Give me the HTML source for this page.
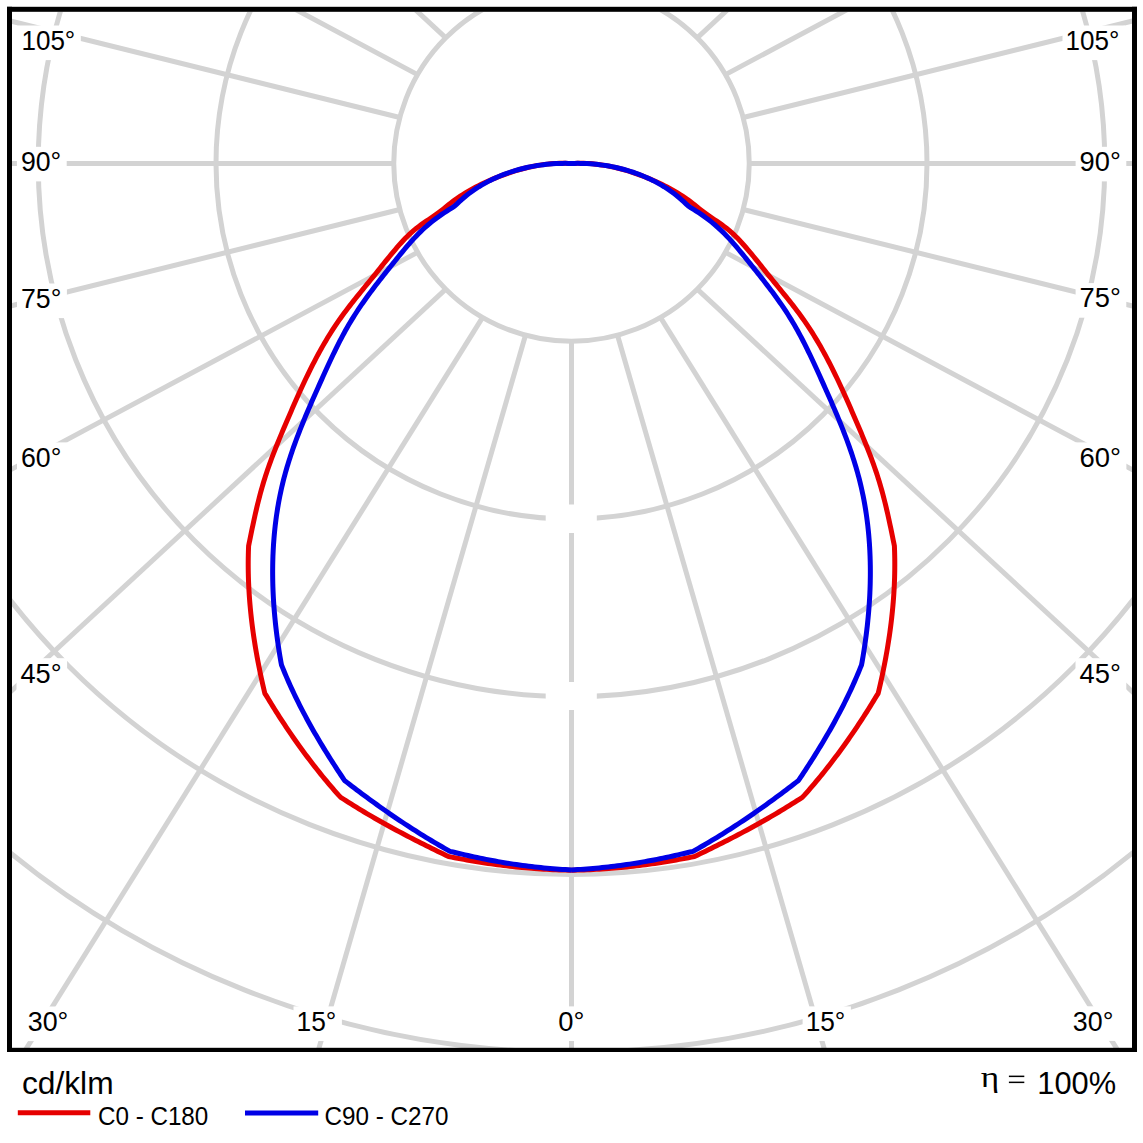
<!DOCTYPE html>
<html><head><meta charset="utf-8"><style>
html,body{margin:0;padding:0;background:#fff;width:1143px;height:1143px;overflow:hidden}
svg{display:block}
</style></head><body>
<svg width="1143" height="1143" viewBox="0 0 1143 1143">
<defs><clipPath id="c"><rect x="12" y="11.8" width="1120" height="1036.2"/></clipPath></defs>
<rect width="1143" height="1143" fill="#fff"/>
<g clip-path="url(#c)">
<g fill="none" stroke="#d3d3d3" stroke-width="5">
<circle cx="571.5" cy="163.5" r="177.75"/>
<circle cx="571.5" cy="163.5" r="355.5"/>
<circle cx="571.5" cy="163.5" r="533.25"/>
<circle cx="571.5" cy="163.5" r="711.0"/>
<circle cx="571.5" cy="163.5" r="888.75"/>
<line x1="571.50" y1="-14.25" x2="571.50" y2="-2014.25"/>
<line x1="617.51" y1="-8.19" x2="1173.98" y2="-1929.22"/>
<line x1="660.38" y1="9.56" x2="1719.35" y2="-1687.07"/>
<line x1="697.19" y1="37.81" x2="2165.39" y2="-1320.27"/>
<line x1="725.44" y1="74.63" x2="2489.62" y2="-867.53"/>
<line x1="743.19" y1="117.49" x2="2684.46" y2="-363.65"/>
<line x1="749.25" y1="163.50" x2="2749.25" y2="163.50"/>
<line x1="743.19" y1="209.51" x2="2684.46" y2="690.65"/>
<line x1="725.44" y1="252.38" x2="2489.62" y2="1194.53"/>
<line x1="697.19" y1="289.19" x2="2165.39" y2="1647.27"/>
<line x1="660.38" y1="317.44" x2="1719.35" y2="2014.07"/>
<line x1="617.51" y1="335.19" x2="1173.98" y2="2256.22"/>
<line x1="571.50" y1="341.25" x2="571.50" y2="2341.25"/>
<line x1="525.49" y1="335.19" x2="-30.98" y2="2256.22"/>
<line x1="482.62" y1="317.44" x2="-576.35" y2="2014.07"/>
<line x1="445.81" y1="289.19" x2="-1022.39" y2="1647.27"/>
<line x1="417.56" y1="252.38" x2="-1346.62" y2="1194.53"/>
<line x1="399.81" y1="209.51" x2="-1541.46" y2="690.65"/>
<line x1="393.75" y1="163.50" x2="-1606.25" y2="163.50"/>
<line x1="399.81" y1="117.49" x2="-1541.46" y2="-363.65"/>
<line x1="417.56" y1="74.63" x2="-1346.62" y2="-867.53"/>
<line x1="445.81" y1="37.81" x2="-1022.39" y2="-1320.27"/>
<line x1="482.62" y1="9.56" x2="-576.35" y2="-1687.07"/>
<line x1="525.49" y1="-8.19" x2="-30.98" y2="-1929.22"/>
<line x1="571.50" y1="-14.25" x2="571.50" y2="-2014.25"/>
</g>
<g fill="#fff">
<rect x="18.4" y="25.5" width="62.4" height="34.6"/>
<rect x="16.9" y="146.8" width="49.8" height="34.6"/>
<rect x="17.0" y="283.5" width="49.9" height="34.6"/>
<rect x="17.0" y="442.4" width="49.9" height="34.6"/>
<rect x="16.5" y="658.2" width="50.6" height="34.6"/>
<rect x="1062.5" y="25.5" width="62.4" height="34.6"/>
<rect x="1075.6" y="146.8" width="50.7" height="34.6"/>
<rect x="1075.6" y="283.1" width="50.7" height="34.6"/>
<rect x="1075.5" y="442.4" width="50.9" height="34.6"/>
<rect x="1075.5" y="658.2" width="50.8" height="34.6"/>
<rect x="23.7" y="1006.5" width="50.1" height="34.6"/>
<rect x="293.5" y="1006.4" width="48.4" height="34.6"/>
<rect x="554.2" y="1006.4" width="35.6" height="34.6"/>
<rect x="802.6" y="1006.4" width="48.3" height="34.6"/>
<rect x="1068.8" y="1006.3" width="50.1" height="34.6"/>
<rect x="545.7" y="504.5" width="51.1" height="28.5"/>
<rect x="545.7" y="682" width="51.1" height="28"/>
</g>
<g fill="#000">
<text transform="translate(21.47,49.80) scale(0.9635,1)" font-family="Liberation Sans" font-size="27">105°</text>
<text transform="translate(20.91,171.10) scale(0.9868,1)" font-family="Liberation Sans" font-size="27">90°</text>
<text transform="translate(21.01,307.80) scale(0.9895,1)" font-family="Liberation Sans" font-size="27">75°</text>
<text transform="translate(21.01,466.70) scale(0.9895,1)" font-family="Liberation Sans" font-size="27">60°</text>
<text transform="translate(20.49,682.50) scale(1.0079,1)" font-family="Liberation Sans" font-size="27">45°</text>
<text transform="translate(1065.57,49.80) scale(0.9635,1)" font-family="Liberation Sans" font-size="27">105°</text>
<text transform="translate(1079.59,171.10) scale(1.0105,1)" font-family="Liberation Sans" font-size="27">90°</text>
<text transform="translate(1079.59,307.40) scale(1.0105,1)" font-family="Liberation Sans" font-size="27">75°</text>
<text transform="translate(1079.48,466.70) scale(1.0158,1)" font-family="Liberation Sans" font-size="27">60°</text>
<text transform="translate(1079.49,682.50) scale(1.0132,1)" font-family="Liberation Sans" font-size="27">45°</text>
<text transform="translate(27.71,1030.80) scale(0.9947,1)" font-family="Liberation Sans" font-size="27">30°</text>
<text transform="translate(296.55,1030.70) scale(0.9757,1)" font-family="Liberation Sans" font-size="27">15°</text>
<text transform="translate(558.19,1030.70) scale(1.0130,1)" font-family="Liberation Sans" font-size="27">0°</text>
<text transform="translate(805.65,1030.70) scale(0.9730,1)" font-family="Liberation Sans" font-size="27">15°</text>
<text transform="translate(1072.81,1030.60) scale(0.9947,1)" font-family="Liberation Sans" font-size="27">30°</text>
</g>
<path d="M571.50,870.20 L568.40,870.15 L565.30,870.08 L562.20,870.00 L559.11,869.90 L556.01,869.79 L552.91,869.66 L549.82,869.51 L546.72,869.35 L543.63,869.18 L540.54,868.98 L537.45,868.77 L534.36,868.55 L531.27,868.31 L528.18,868.06 L525.09,867.79 L522.01,867.50 L518.92,867.20 L515.84,866.89 L512.76,866.56 L509.68,866.22 L506.60,865.86 L503.53,865.49 L500.45,865.10 L497.38,864.70 L494.31,864.29 L491.24,863.86 L488.17,863.42 L485.11,862.96 L482.05,862.50 L478.99,862.01 L475.93,861.52 L472.87,861.01 L469.82,860.49 L466.76,859.96 L463.71,859.41 L460.67,858.85 L457.62,858.28 L454.58,857.69 L451.54,857.10 L448.50,856.50 L445.72,855.19 L442.95,853.85 L440.18,852.52 L437.41,851.17 L434.65,849.82 L431.89,848.46 L429.13,847.10 L426.38,845.73 L423.63,844.35 L420.88,842.97 L418.13,841.58 L415.39,840.18 L412.66,838.78 L409.92,837.36 L407.20,835.94 L404.47,834.51 L401.75,833.08 L399.04,831.63 L396.33,830.18 L393.62,828.72 L390.92,827.25 L388.22,825.77 L385.53,824.28 L382.85,822.78 L380.17,821.27 L377.50,819.75 L374.83,818.22 L372.17,816.68 L369.51,815.13 L366.86,813.57 L364.22,812.00 L361.58,810.42 L358.95,808.82 L356.33,807.22 L353.71,805.60 L351.10,803.97 L348.50,802.33 L345.91,800.68 L343.32,799.01 L340.70,797.40 L338.59,795.16 L336.56,792.86 L334.53,790.55 L332.52,788.23 L330.53,785.90 L328.54,783.56 L326.57,781.20 L324.61,778.84 L322.66,776.46 L320.72,774.08 L318.80,771.69 L316.88,769.28 L314.98,766.87 L313.09,764.44 L311.22,762.01 L309.35,759.57 L307.50,757.12 L305.65,754.66 L303.82,752.19 L302.01,749.71 L300.20,747.23 L298.40,744.73 L296.62,742.23 L294.85,739.72 L293.09,737.20 L291.34,734.67 L289.60,732.13 L287.87,729.59 L286.16,727.04 L284.45,724.48 L282.76,721.92 L281.08,719.35 L279.41,716.77 L277.75,714.18 L276.10,711.59 L274.46,708.99 L272.84,706.38 L271.22,703.77 L269.62,701.15 L268.03,698.53 L266.44,695.90 L264.80,693.30 L264.09,690.29 L263.39,687.27 L262.70,684.26 L262.03,681.23 L261.36,678.21 L260.72,675.18 L260.08,672.15 L259.46,669.12 L258.85,666.08 L258.26,663.04 L257.68,659.99 L257.12,656.95 L256.57,653.90 L256.03,650.85 L255.52,647.79 L255.01,644.73 L254.53,641.67 L254.06,638.61 L253.60,635.55 L253.16,632.48 L252.74,629.41 L252.34,626.34 L251.95,623.27 L251.59,620.19 L251.23,617.11 L250.90,614.03 L250.59,610.95 L250.29,607.87 L250.01,604.79 L249.75,601.70 L249.51,598.61 L249.29,595.53 L249.09,592.44 L248.91,589.35 L248.75,586.25 L248.61,583.16 L248.49,580.07 L248.39,576.97 L248.32,573.88 L248.26,570.78 L248.23,567.69 L248.21,564.59 L248.22,561.49 L248.25,558.39 L248.31,555.29 L248.38,552.20 L248.48,549.10 L248.60,546.00 L249.18,543.07 L249.77,540.14 L250.37,537.20 L250.97,534.25 L251.58,531.31 L252.19,528.35 L252.82,525.40 L253.45,522.44 L254.09,519.48 L254.75,516.52 L255.41,513.56 L256.09,510.61 L256.78,507.65 L257.49,504.70 L258.22,501.75 L258.96,498.81 L259.72,495.87 L260.50,492.94 L261.31,490.01 L262.13,487.10 L262.97,484.19 L263.84,481.29 L264.74,478.41 L265.66,475.53 L266.60,472.67 L267.56,469.81 L268.55,466.97 L269.55,464.13 L270.58,461.30 L271.62,458.48 L272.68,455.67 L273.76,452.86 L274.85,450.06 L275.96,447.26 L277.08,444.47 L278.21,441.69 L279.36,438.90 L280.51,436.12 L281.67,433.34 L282.84,430.57 L284.01,427.79 L285.20,425.02 L286.38,422.24 L287.57,419.47 L288.77,416.69 L289.96,413.92 L291.16,411.14 L292.37,408.37 L293.58,405.59 L294.80,402.82 L296.02,400.05 L297.25,397.28 L298.49,394.52 L299.74,391.76 L301.00,389.00 L302.27,386.25 L303.54,383.50 L304.83,380.76 L306.13,378.03 L307.44,375.30 L308.77,372.58 L310.11,369.87 L311.46,367.16 L312.83,364.47 L314.21,361.78 L315.61,359.10 L317.03,356.43 L318.46,353.77 L319.91,351.13 L321.38,348.49 L322.86,345.87 L324.37,343.26 L325.90,340.66 L327.45,338.08 L329.02,335.51 L330.61,332.95 L332.22,330.41 L333.86,327.89 L335.52,325.38 L337.21,322.89 L338.92,320.41 L340.66,317.95 L342.42,315.51 L344.20,313.09 L346.01,310.67 L347.83,308.27 L349.67,305.88 L351.52,303.50 L353.39,301.13 L355.27,298.77 L357.16,296.42 L359.06,294.07 L360.97,291.72 L362.88,289.38 L364.79,287.04 L366.70,284.70 L368.62,282.36 L370.53,280.02 L372.44,277.67 L374.34,275.32 L376.23,272.96 L378.12,270.60 L380.01,268.24 L381.89,265.88 L383.78,263.52 L385.67,261.17 L387.56,258.82 L389.47,256.48 L391.39,254.15 L393.32,251.83 L395.26,249.53 L397.23,247.24 L399.22,244.97 L401.23,242.72 L403.27,240.50 L405.34,238.32 L407.46,236.18 L409.63,234.09 L411.85,232.07 L414.12,230.11 L416.46,228.22 L418.85,226.40 L421.29,224.62 L423.76,222.89 L426.25,221.18 L428.76,219.48 L431.27,217.78 L433.77,216.06 L436.25,214.32 L438.70,212.54 L441.11,210.72 L443.49,208.84 L445.84,206.94 L448.20,205.05 L450.57,203.19 L452.98,201.37 L455.41,199.59 L457.88,197.87 L460.38,196.19 L462.90,194.56 L465.46,192.97 L468.04,191.42 L470.64,189.92 L473.27,188.45 L475.93,187.03 L478.60,185.65 L481.30,184.30 L484.01,183.00 L486.75,181.72 L489.50,180.49 L492.27,179.28 L495.06,178.11 L497.86,176.98 L500.67,175.88 L503.50,174.81 L506.34,173.78 L509.20,172.79 L512.06,171.85 L514.95,170.94 L517.84,170.08 L520.74,169.26 L523.66,168.48 L526.58,167.76 L529.52,167.08 L532.47,166.46 L535.43,165.88 L538.39,165.36 L541.37,164.90 L544.35,164.49 L547.34,164.14 L550.34,163.85 L553.35,163.61 L556.36,163.45 L559.38,163.34 L562.41,163.30 L565.44,163.32 L568.48,163.42 L571.50,163.50 L574.52,163.42 L577.56,163.32 L580.59,163.30 L583.62,163.34 L586.64,163.45 L589.65,163.61 L592.66,163.85 L595.66,164.14 L598.65,164.49 L601.63,164.90 L604.61,165.36 L607.57,165.88 L610.53,166.46 L613.48,167.08 L616.42,167.76 L619.34,168.48 L622.26,169.26 L625.16,170.08 L628.05,170.94 L630.94,171.85 L633.80,172.79 L636.66,173.78 L639.50,174.81 L642.33,175.88 L645.14,176.98 L647.94,178.11 L650.73,179.28 L653.50,180.49 L656.25,181.72 L658.99,183.00 L661.70,184.30 L664.40,185.65 L667.07,187.03 L669.73,188.45 L672.36,189.92 L674.96,191.42 L677.54,192.97 L680.10,194.56 L682.62,196.19 L685.12,197.87 L687.59,199.59 L690.02,201.37 L692.43,203.19 L694.80,205.05 L697.16,206.94 L699.51,208.84 L701.89,210.72 L704.30,212.54 L706.75,214.32 L709.23,216.06 L711.73,217.78 L714.24,219.48 L716.75,221.18 L719.24,222.89 L721.71,224.62 L724.15,226.40 L726.54,228.22 L728.88,230.11 L731.15,232.07 L733.37,234.09 L735.54,236.18 L737.66,238.32 L739.73,240.50 L741.77,242.72 L743.78,244.97 L745.77,247.24 L747.74,249.53 L749.68,251.83 L751.61,254.15 L753.53,256.48 L755.44,258.82 L757.33,261.17 L759.22,263.52 L761.11,265.88 L762.99,268.24 L764.88,270.60 L766.77,272.96 L768.66,275.32 L770.56,277.67 L772.47,280.02 L774.38,282.36 L776.30,284.70 L778.21,287.04 L780.12,289.38 L782.03,291.72 L783.94,294.07 L785.84,296.42 L787.73,298.77 L789.61,301.13 L791.48,303.50 L793.33,305.88 L795.17,308.27 L796.99,310.67 L798.80,313.09 L800.58,315.51 L802.34,317.95 L804.08,320.41 L805.79,322.89 L807.48,325.38 L809.14,327.89 L810.78,330.41 L812.39,332.95 L813.98,335.51 L815.55,338.08 L817.10,340.66 L818.63,343.26 L820.14,345.87 L821.62,348.49 L823.09,351.13 L824.54,353.77 L825.97,356.43 L827.39,359.10 L828.79,361.78 L830.17,364.47 L831.54,367.16 L832.89,369.87 L834.23,372.58 L835.56,375.30 L836.87,378.03 L838.17,380.76 L839.46,383.50 L840.73,386.25 L842.00,389.00 L843.26,391.76 L844.51,394.52 L845.75,397.28 L846.98,400.05 L848.20,402.82 L849.42,405.59 L850.63,408.37 L851.84,411.14 L853.04,413.92 L854.23,416.69 L855.43,419.47 L856.62,422.24 L857.80,425.02 L858.99,427.79 L860.16,430.57 L861.33,433.34 L862.49,436.12 L863.64,438.90 L864.79,441.69 L865.92,444.47 L867.04,447.26 L868.15,450.06 L869.24,452.86 L870.32,455.67 L871.38,458.48 L872.42,461.30 L873.45,464.13 L874.45,466.97 L875.44,469.81 L876.40,472.67 L877.34,475.53 L878.26,478.41 L879.16,481.29 L880.03,484.19 L880.87,487.10 L881.69,490.01 L882.50,492.94 L883.28,495.87 L884.04,498.81 L884.78,501.75 L885.51,504.70 L886.22,507.65 L886.91,510.61 L887.59,513.56 L888.25,516.52 L888.91,519.48 L889.55,522.44 L890.18,525.40 L890.81,528.35 L891.42,531.31 L892.03,534.25 L892.63,537.20 L893.23,540.14 L893.82,543.07 L894.40,546.00 L894.52,549.10 L894.62,552.20 L894.69,555.29 L894.75,558.39 L894.78,561.49 L894.79,564.59 L894.77,567.69 L894.74,570.78 L894.68,573.88 L894.61,576.97 L894.51,580.07 L894.39,583.16 L894.25,586.25 L894.09,589.35 L893.91,592.44 L893.71,595.53 L893.49,598.61 L893.25,601.70 L892.99,604.79 L892.71,607.87 L892.41,610.95 L892.10,614.03 L891.77,617.11 L891.41,620.19 L891.05,623.27 L890.66,626.34 L890.26,629.41 L889.84,632.48 L889.40,635.55 L888.94,638.61 L888.47,641.67 L887.99,644.73 L887.48,647.79 L886.97,650.85 L886.43,653.90 L885.88,656.95 L885.32,659.99 L884.74,663.04 L884.15,666.08 L883.54,669.12 L882.92,672.15 L882.28,675.18 L881.64,678.21 L880.97,681.23 L880.30,684.26 L879.61,687.27 L878.91,690.29 L878.20,693.30 L876.56,695.90 L874.97,698.53 L873.38,701.15 L871.78,703.77 L870.16,706.38 L868.54,708.99 L866.90,711.59 L865.25,714.18 L863.59,716.77 L861.92,719.35 L860.24,721.92 L858.55,724.48 L856.84,727.04 L855.13,729.59 L853.40,732.13 L851.66,734.67 L849.91,737.20 L848.15,739.72 L846.38,742.23 L844.60,744.73 L842.80,747.23 L840.99,749.71 L839.18,752.19 L837.35,754.66 L835.50,757.12 L833.65,759.57 L831.78,762.01 L829.91,764.44 L828.02,766.87 L826.12,769.28 L824.20,771.69 L822.28,774.08 L820.34,776.46 L818.39,778.84 L816.43,781.20 L814.46,783.56 L812.47,785.90 L810.48,788.23 L808.47,790.55 L806.44,792.86 L804.41,795.16 L802.30,797.40 L799.68,799.01 L797.09,800.68 L794.50,802.33 L791.90,803.97 L789.29,805.60 L786.67,807.22 L784.05,808.82 L781.42,810.42 L778.78,812.00 L776.14,813.57 L773.49,815.13 L770.83,816.68 L768.17,818.22 L765.50,819.75 L762.83,821.27 L760.15,822.78 L757.47,824.28 L754.78,825.77 L752.08,827.25 L749.38,828.72 L746.67,830.18 L743.96,831.63 L741.25,833.08 L738.53,834.51 L735.80,835.94 L733.08,837.36 L730.34,838.78 L727.61,840.18 L724.87,841.58 L722.12,842.97 L719.37,844.35 L716.62,845.73 L713.87,847.10 L711.11,848.46 L708.35,849.82 L705.59,851.17 L702.82,852.52 L700.05,853.85 L697.28,855.19 L694.50,856.50 L691.46,857.10 L688.42,857.69 L685.38,858.28 L682.33,858.85 L679.29,859.41 L676.24,859.96 L673.18,860.49 L670.13,861.01 L667.07,861.52 L664.01,862.01 L660.95,862.50 L657.89,862.96 L654.83,863.42 L651.76,863.86 L648.69,864.29 L645.62,864.70 L642.55,865.10 L639.47,865.49 L636.40,865.86 L633.32,866.22 L630.24,866.56 L627.16,866.89 L624.08,867.20 L620.99,867.50 L617.91,867.79 L614.82,868.06 L611.73,868.31 L608.64,868.55 L605.55,868.77 L602.46,868.98 L599.37,869.18 L596.28,869.35 L593.18,869.51 L590.09,869.66 L586.99,869.79 L583.89,869.90 L580.80,870.00 L577.70,870.08 L574.60,870.15 L571.50,870.20" fill="none" stroke="#e60000" stroke-width="5" stroke-linejoin="round"/>
<path d="M571.50,869.90 L568.43,869.73 L565.35,869.56 L562.27,869.38 L559.20,869.17 L556.13,868.95 L553.06,868.71 L549.99,868.45 L546.93,868.18 L543.86,867.89 L540.80,867.59 L537.74,867.26 L534.68,866.92 L531.63,866.57 L528.57,866.20 L525.52,865.81 L522.47,865.41 L519.42,864.99 L516.38,864.55 L513.33,864.10 L510.29,863.64 L507.25,863.16 L504.22,862.66 L501.18,862.15 L498.15,861.62 L495.12,861.08 L492.10,860.52 L489.07,859.95 L486.05,859.36 L483.04,858.76 L480.02,858.15 L477.01,857.52 L474.00,856.88 L470.99,856.22 L467.99,855.55 L464.99,854.86 L461.99,854.16 L459.00,853.45 L456.01,852.73 L453.02,851.99 L450.00,851.40 L447.32,849.84 L444.61,848.31 L441.92,846.77 L439.23,845.22 L436.55,843.65 L433.88,842.07 L431.21,840.48 L428.55,838.88 L425.90,837.27 L423.26,835.65 L420.62,834.01 L417.99,832.37 L415.37,830.71 L412.75,829.05 L410.14,827.37 L407.54,825.68 L404.94,823.98 L402.35,822.27 L399.77,820.55 L397.19,818.83 L394.62,817.09 L392.06,815.34 L389.50,813.58 L386.95,811.81 L384.41,810.04 L381.87,808.25 L379.34,806.46 L376.81,804.66 L374.29,802.84 L371.78,801.02 L369.27,799.20 L366.77,797.36 L364.28,795.51 L361.79,793.66 L359.30,791.80 L356.82,789.93 L354.35,788.05 L351.88,786.17 L349.42,784.28 L346.97,782.38 L344.50,780.50 L342.80,777.87 L341.05,775.26 L339.32,772.64 L337.59,770.02 L335.88,767.39 L334.17,764.76 L332.47,762.12 L330.78,759.47 L329.11,756.81 L327.44,754.16 L325.78,751.49 L324.14,748.82 L322.50,746.14 L320.88,743.45 L319.27,740.75 L317.68,738.05 L316.09,735.34 L314.52,732.63 L312.96,729.91 L311.42,727.17 L309.89,724.44 L308.37,721.69 L306.87,718.94 L305.38,716.17 L303.91,713.40 L302.45,710.63 L301.01,707.84 L299.59,705.04 L298.18,702.24 L296.79,699.43 L295.42,696.61 L294.06,693.78 L292.72,690.94 L291.40,688.10 L290.10,685.24 L288.82,682.37 L287.55,679.50 L286.31,676.62 L285.08,673.72 L283.87,670.82 L282.69,667.91 L281.50,665.00 L280.92,662.00 L280.41,659.04 L279.91,656.08 L279.43,653.11 L278.95,650.13 L278.50,647.15 L278.06,644.16 L277.64,641.17 L277.23,638.17 L276.83,635.17 L276.46,632.17 L276.10,629.16 L275.75,626.14 L275.43,623.13 L275.12,620.11 L274.82,617.08 L274.55,614.06 L274.29,611.03 L274.05,608.00 L273.83,604.96 L273.62,601.93 L273.44,598.89 L273.27,595.85 L273.13,592.81 L273.00,589.77 L272.89,586.72 L272.80,583.68 L272.74,580.64 L272.69,577.59 L272.66,574.55 L272.65,571.50 L272.67,568.46 L272.70,565.42 L272.76,562.38 L272.84,559.33 L272.93,556.30 L273.06,553.26 L273.20,550.22 L273.37,547.19 L273.55,544.15 L273.77,541.12 L274.00,538.10 L274.26,535.07 L274.54,532.05 L274.85,529.03 L275.17,526.02 L275.53,523.01 L275.91,520.00 L276.31,517.00 L276.74,514.00 L277.19,511.01 L277.67,508.02 L278.17,505.04 L278.70,502.06 L279.26,499.09 L279.84,496.12 L280.45,493.16 L281.08,490.21 L281.74,487.26 L282.43,484.32 L283.15,481.39 L283.89,478.46 L284.66,475.54 L285.46,472.63 L286.29,469.72 L287.14,466.82 L288.01,463.93 L288.91,461.04 L289.83,458.16 L290.77,455.29 L291.73,452.42 L292.71,449.56 L293.72,446.70 L294.74,443.85 L295.78,441.00 L296.84,438.16 L297.91,435.32 L299.00,432.49 L300.11,429.66 L301.23,426.84 L302.36,424.02 L303.51,421.20 L304.67,418.39 L305.84,415.58 L307.02,412.78 L308.21,409.98 L309.41,407.18 L310.62,404.39 L311.83,401.60 L313.05,398.81 L314.28,396.02 L315.52,393.24 L316.75,390.46 L317.99,387.68 L319.24,384.90 L320.49,382.12 L321.74,379.35 L322.99,376.58 L324.24,373.81 L325.49,371.04 L326.75,368.27 L328.02,365.51 L329.29,362.76 L330.58,360.01 L331.87,357.27 L333.17,354.53 L334.49,351.80 L335.81,349.08 L337.16,346.37 L338.52,343.67 L339.89,340.98 L341.29,338.29 L342.70,335.63 L344.14,332.97 L345.59,330.32 L347.07,327.69 L348.58,325.08 L350.11,322.48 L351.67,319.89 L353.25,317.32 L354.87,314.76 L356.50,312.23 L358.17,309.70 L359.85,307.19 L361.56,304.69 L363.29,302.20 L365.04,299.73 L366.80,297.27 L368.59,294.82 L370.39,292.37 L372.21,289.94 L374.04,287.52 L375.88,285.10 L377.74,282.69 L379.60,280.29 L381.48,277.90 L383.36,275.51 L385.25,273.13 L387.14,270.75 L389.05,268.38 L390.95,266.01 L392.86,263.64 L394.76,261.27 L396.67,258.91 L398.58,256.55 L400.49,254.19 L402.41,251.85 L404.34,249.51 L406.28,247.19 L408.25,244.89 L410.23,242.61 L412.24,240.35 L414.28,238.13 L416.35,235.93 L418.45,233.77 L420.60,231.64 L422.79,229.56 L425.02,227.52 L427.29,225.52 L429.61,223.57 L431.97,221.65 L434.36,219.78 L436.79,217.95 L439.25,216.17 L441.74,214.42 L444.26,212.72 L446.81,211.06 L449.39,209.44 L451.98,207.86 L454.50,206.20 L456.78,204.07 L459.05,201.90 L461.37,199.79 L463.74,197.75 L466.15,195.76 L468.61,193.84 L471.12,191.98 L473.66,190.18 L476.25,188.44 L478.87,186.76 L481.54,185.14 L484.24,183.59 L486.97,182.09 L489.73,180.65 L492.53,179.28 L495.36,177.96 L498.22,176.70 L501.10,175.50 L504.01,174.36 L506.94,173.27 L509.90,172.25 L512.87,171.28 L515.87,170.37 L518.88,169.51 L521.92,168.72 L524.96,167.98 L528.02,167.29 L531.09,166.66 L534.18,166.09 L537.27,165.57 L540.37,165.11 L543.47,164.71 L546.58,164.35 L549.70,164.06 L552.81,163.81 L555.93,163.62 L559.04,163.49 L562.15,163.40 L565.26,163.37 L568.36,163.39 L571.50,163.50 L574.64,163.39 L577.74,163.37 L580.85,163.40 L583.96,163.49 L587.07,163.62 L590.19,163.81 L593.30,164.06 L596.42,164.35 L599.53,164.71 L602.63,165.11 L605.73,165.57 L608.82,166.09 L611.91,166.66 L614.98,167.29 L618.04,167.98 L621.08,168.72 L624.12,169.51 L627.13,170.37 L630.13,171.28 L633.10,172.25 L636.06,173.27 L638.99,174.36 L641.90,175.50 L644.78,176.70 L647.64,177.96 L650.47,179.28 L653.27,180.65 L656.03,182.09 L658.76,183.59 L661.46,185.14 L664.13,186.76 L666.75,188.44 L669.34,190.18 L671.88,191.98 L674.39,193.84 L676.85,195.76 L679.26,197.75 L681.63,199.79 L683.95,201.90 L686.22,204.07 L688.50,206.20 L691.02,207.86 L693.61,209.44 L696.19,211.06 L698.74,212.72 L701.26,214.42 L703.75,216.17 L706.21,217.95 L708.64,219.78 L711.03,221.65 L713.39,223.57 L715.71,225.52 L717.98,227.52 L720.21,229.56 L722.40,231.64 L724.55,233.77 L726.65,235.93 L728.72,238.13 L730.76,240.35 L732.77,242.61 L734.75,244.89 L736.72,247.19 L738.66,249.51 L740.59,251.85 L742.51,254.19 L744.42,256.55 L746.33,258.91 L748.24,261.27 L750.14,263.64 L752.05,266.01 L753.95,268.38 L755.86,270.75 L757.75,273.13 L759.64,275.51 L761.52,277.90 L763.40,280.29 L765.26,282.69 L767.12,285.10 L768.96,287.52 L770.79,289.94 L772.61,292.37 L774.41,294.82 L776.20,297.27 L777.96,299.73 L779.71,302.20 L781.44,304.69 L783.15,307.19 L784.83,309.70 L786.50,312.23 L788.13,314.76 L789.75,317.32 L791.33,319.89 L792.89,322.48 L794.42,325.08 L795.93,327.69 L797.41,330.32 L798.86,332.97 L800.30,335.63 L801.71,338.29 L803.11,340.98 L804.48,343.67 L805.84,346.37 L807.19,349.08 L808.51,351.80 L809.83,354.53 L811.13,357.27 L812.42,360.01 L813.71,362.76 L814.98,365.51 L816.25,368.27 L817.51,371.04 L818.76,373.81 L820.01,376.58 L821.26,379.35 L822.51,382.12 L823.76,384.90 L825.01,387.68 L826.25,390.46 L827.48,393.24 L828.72,396.02 L829.95,398.81 L831.17,401.60 L832.38,404.39 L833.59,407.18 L834.79,409.98 L835.98,412.78 L837.16,415.58 L838.33,418.39 L839.49,421.20 L840.64,424.02 L841.77,426.84 L842.89,429.66 L844.00,432.49 L845.09,435.32 L846.16,438.16 L847.22,441.00 L848.26,443.85 L849.28,446.70 L850.29,449.56 L851.27,452.42 L852.23,455.29 L853.17,458.16 L854.09,461.04 L854.99,463.93 L855.86,466.82 L856.71,469.72 L857.54,472.63 L858.34,475.54 L859.11,478.46 L859.85,481.39 L860.57,484.32 L861.26,487.26 L861.92,490.21 L862.55,493.16 L863.16,496.12 L863.74,499.09 L864.30,502.06 L864.83,505.04 L865.33,508.02 L865.81,511.01 L866.26,514.00 L866.69,517.00 L867.09,520.00 L867.47,523.01 L867.83,526.02 L868.15,529.03 L868.46,532.05 L868.74,535.07 L869.00,538.10 L869.23,541.12 L869.45,544.15 L869.63,547.19 L869.80,550.22 L869.94,553.26 L870.07,556.30 L870.16,559.33 L870.24,562.38 L870.30,565.42 L870.33,568.46 L870.35,571.50 L870.34,574.55 L870.31,577.59 L870.26,580.64 L870.20,583.68 L870.11,586.72 L870.00,589.77 L869.87,592.81 L869.73,595.85 L869.56,598.89 L869.38,601.93 L869.17,604.96 L868.95,608.00 L868.71,611.03 L868.45,614.06 L868.18,617.08 L867.88,620.11 L867.57,623.13 L867.25,626.14 L866.90,629.16 L866.54,632.17 L866.17,635.17 L865.77,638.17 L865.36,641.17 L864.94,644.16 L864.50,647.15 L864.05,650.13 L863.57,653.11 L863.09,656.08 L862.59,659.04 L862.08,662.00 L861.50,665.00 L860.31,667.91 L859.13,670.82 L857.92,673.72 L856.69,676.62 L855.45,679.50 L854.18,682.37 L852.90,685.24 L851.60,688.10 L850.28,690.94 L848.94,693.78 L847.58,696.61 L846.21,699.43 L844.82,702.24 L843.41,705.04 L841.99,707.84 L840.55,710.63 L839.09,713.40 L837.62,716.17 L836.13,718.94 L834.63,721.69 L833.11,724.44 L831.58,727.17 L830.04,729.91 L828.48,732.63 L826.91,735.34 L825.32,738.05 L823.73,740.75 L822.12,743.45 L820.50,746.14 L818.86,748.82 L817.22,751.49 L815.56,754.16 L813.89,756.81 L812.22,759.47 L810.53,762.12 L808.83,764.76 L807.12,767.39 L805.41,770.02 L803.68,772.64 L801.95,775.26 L800.20,777.87 L798.50,780.50 L796.03,782.38 L793.58,784.28 L791.12,786.17 L788.65,788.05 L786.18,789.93 L783.70,791.80 L781.21,793.66 L778.72,795.51 L776.23,797.36 L773.73,799.20 L771.22,801.02 L768.71,802.84 L766.19,804.66 L763.66,806.46 L761.13,808.25 L758.59,810.04 L756.05,811.81 L753.50,813.58 L750.94,815.34 L748.38,817.09 L745.81,818.83 L743.23,820.55 L740.65,822.27 L738.06,823.98 L735.46,825.68 L732.86,827.37 L730.25,829.05 L727.63,830.71 L725.01,832.37 L722.38,834.01 L719.74,835.65 L717.10,837.27 L714.45,838.88 L711.79,840.48 L709.12,842.07 L706.45,843.65 L703.77,845.22 L701.08,846.77 L698.39,848.31 L695.68,849.84 L693.00,851.40 L689.98,851.99 L686.99,852.73 L684.00,853.45 L681.01,854.16 L678.01,854.86 L675.01,855.55 L672.01,856.22 L669.00,856.88 L665.99,857.52 L662.98,858.15 L659.96,858.76 L656.95,859.36 L653.93,859.95 L650.90,860.52 L647.88,861.08 L644.85,861.62 L641.82,862.15 L638.78,862.66 L635.75,863.16 L632.71,863.64 L629.67,864.10 L626.62,864.55 L623.58,864.99 L620.53,865.41 L617.48,865.81 L614.43,866.20 L611.37,866.57 L608.32,866.92 L605.26,867.26 L602.20,867.59 L599.14,867.89 L596.07,868.18 L593.01,868.45 L589.94,868.71 L586.87,868.95 L583.80,869.17 L580.73,869.38 L577.65,869.56 L574.57,869.73 L571.50,869.90" fill="none" stroke="#0000e6" stroke-width="5" stroke-linejoin="round"/>
</g>
<g fill="#000"><rect x="7" y="6.8" width="1130" height="5"/><rect x="7" y="6.8" width="5" height="1045.2"/><rect x="1132" y="6.8" width="5" height="1045.2"/><rect x="7" y="1047.8" width="1130" height="4.2"/></g>
<g font-family="Liberation Sans, sans-serif" fill="#000">
<text transform="translate(21.91,1093.60) scale(0.9921,1)" font-family="Liberation Sans" font-size="32">cd/klm</text>
<line x1="17.8" y1="1112.8" x2="90.3" y2="1112.8" stroke="#e60000" stroke-width="5"/>
<text transform="translate(97.95,1124.80) scale(0.9500,1)" font-family="Liberation Sans" font-size="25.5">C0 - C180</text>
<line x1="245" y1="1112.9" x2="318.2" y2="1112.9" stroke="#0000e6" stroke-width="5"/>
<text transform="translate(324.55,1124.80) scale(0.9519,1)" font-family="Liberation Sans" font-size="25.5">C90 - C270</text>
<text transform="translate(980.72,1086.80) scale(1.1769,1)" font-family="Liberation Serif" font-size="30">η</text>
<rect x="1008.9" y="1075.6" width="15.4" height="1.5"/>
<rect x="1008.9" y="1081.6" width="15.4" height="1.5"/>
<text transform="translate(1037.31,1093.50) scale(0.9934,1)" font-family="Liberation Sans" font-size="31">100%</text>
</g>
</svg>
</body></html>
